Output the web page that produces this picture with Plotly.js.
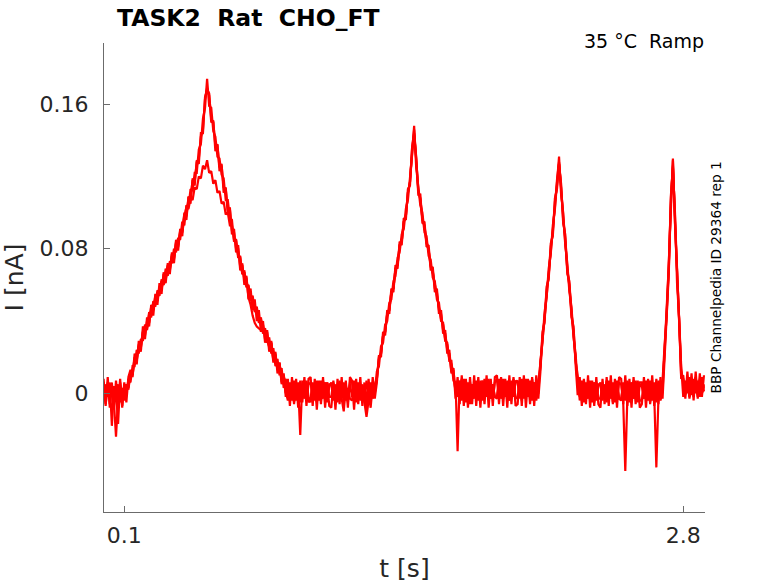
<!DOCTYPE html>
<html>
<head>
<meta charset="utf-8">
<script src="https://cdn.plot.ly/plotly-3.0.1.min.js"></script>
<style>
  html, body { margin: 0; padding: 0; background: #fff; }
  #chart { width: 778px; height: 583px; }
</style>
</head>
<body>
<div id="chart"></div>
<script>
var t0 = 0;
var dt = 0.01;

var sweepA = [
  5,-4,6,-6,3,-5,-24,-3,4,-7,
  5,-1,8,6,15,15,24,22,30,29,
  38,36,44,42,51,49,56,54,63,61,
  69,65,73,72,80,78,86,85,95,93,
  104,103,113,112,122,122,135,138,152,158,
  174,159,158,145,142,131,130,121,119,107,
  107,97,96,84,85,75,76,66,68,59,
  60,51,53,45,48,40,42,33,35,28,
  31,22,25,15,19,10,14,3,8,-2,
  6,-3,7,-4,4,-23,7,-2,5,-5,
  -3,6,-2,7,-4,4,-3,6,-5,5,
  5,-4,4,-3,7,-2,6,-4,3,-3,
  -4,7,-2,6,-3,5,-5,-13,-4,6,
  -3,5,8,19,22,32,34,44,46,56,
  58,69,71,82,84,95,98,111,117,134,
  148,125,116,104,100,89,87,76,74,64,
  62,52,50,40,39,29,28,18,18,7,
  6,-32,7,-4,6,-5,4,-6,5,-3,
  7,-2,5,-4,6,-1,8,-3,4,-2,
  -3,6,-1,8,-2,7,-4,5,-2,7,
  6,-3,8,-1,7,-2,5,-4,6,-1,
  0,18,28,45,53,69,77,93,102,119,
  131,110,100,82,72,56,48,31,22,4,
  6,-3,7,-2,5,-4,4,-5,6,-3,
  -3,6,-2,7,-4,5,-5,4,-3,6,
  5,-5,-43,-2,5,-4,7,-3,4,-4,
  -4,5,-2,6,-5,5,-2,-41,-3,6,
  5,23,47,68,107,126,98,63,40,9,
  8,-1,9,0,7,-2,9,-1,8,0,
  5
];

var sweepB = [
  -4,5,-2,6,-18,4,-3,5,-5,3,
  -4,5,3,12,10,19,18,26,25,34,
  32,40,39,48,46,54,51,59,57,66,
  64,71,68,76,75,84,81,89,90,99,
  98,108,108,118,117,128,130,142,146,163,
  169,165,152,150,137,137,125,126,114,113,
  102,102,90,89,80,80,70,71,63,64,
  53,49,43,39,37,36,35,38,30,34,
  25,28,18,22,13,17,6,10,0,6,
  -4,5,-5,4,-3,6,-2,7,-4,5,
  6,-2,5,-5,4,-4,7,-3,6,-2,
  -2,7,-4,5,-3,6,-2,5,-5,6,
  7,-3,6,-2,5,-5,4,-4,5,-2,
  6,1,12,15,26,28,38,40,50,52,
  62,65,75,78,88,91,102,107,121,130,
  144,129,112,108,96,93,83,80,70,68,
  58,56,46,44,35,33,24,22,12,13,
  0,7,-2,8,-1,7,-4,6,-3,5,
  -3,6,-4,7,-1,8,-2,5,-3,6,
  8,-1,7,-3,6,-4,5,-2,8,-3,
  -2,7,-4,6,-1,7,-3,8,-2,5,
  7,14,32,41,57,65,81,89,106,115,
  127,114,96,86,68,60,44,35,18,10,
  -4,7,-3,6,-2,5,-5,6,-3,4,
  6,-2,5,-5,6,-3,4,-4,7,-3,
  -3,6,-2,5,-5,6,-3,7,-2,6,
  6,-3,7,-4,4,-3,6,-2,7,-3,
  7,27,43,72,103,130,94,67,36,15,
  -2,7,0,9,-1,8,0,7,-2,9,
  1
];

var sweepC = [
  3,-6,4,-3,5,-7,2,-17,6,-2,
  -3,5,2,11,11,20,19,27,26,34,
  37,35,45,43,50,48,57,55,62,60,
  63,70,69,77,74,83,82,90,89,98,
  103,102,108,107,114,113,120,119,126,124,
  129,122,123,116,118,111,112,105,106,99,
  100,93,93,85,85,76,75,66,67,59,
  59,52,54,46,47,39,41,34,36,29,
  26,28,19,21,13,16,8,10,1,-4,
  4,-4,5,-3,6,-5,4,-3,7,-2,
  -5,5,-4,4,-3,7,-2,6,-4,4,
  6,-2,5,-5,4,-3,-10,4,-4,5,
  -2,6,-5,5,-4,4,-3,7,-2,-8,
  5,0,8,20,22,32,34,44,46,56,
  58,69,71,82,84,95,98,111,117,135,
  146,128,113,107,97,92,84,79,71,67,
  61,53,49,41,38,30,27,19,16,8,
  2,-2,7,-1,8,-3,6,-4,5,-2,
  6,-4,7,-1,8,-2,7,-3,5,-2,
  -2,8,-3,5,-1,6,-4,7,-1,6,
  7,-1,6,-3,8,-2,7,-1,6,-4,
  4,17,29,44,54,68,78,92,103,118,
  128,113,97,85,69,59,45,34,19,5,
  -2,6,-5,5,-3,7,-2,6,-4,5,
  5,-4,4,-3,7,-2,6,-5,5,-3,
  -4,5,-4,7,-2,6,-3,4,-5,5,
  4,-3,6,-2,7,-4,5,-5,4,-4,
  1,26,44,71,104,129,95,66,37,13,
  7,0,8,-3,6,-1,9,-2,7,0,
  4
];

var sweepD = [
  8,-7,9,-8,6,-9,7,-6,8,-8,
  6,-5,9,13,9,22,16,29,23,37,
  30,42,37,49,43,55,49,61,55,67,
  61,72,66,78,72,85,79,91,87,100,
  96,109,105,119,115,129,127,144,144,164,
  168,166,150,151,134,138,123,127,111,114,
  99,103,88,91,78,82,68,72,60,65,
  52,58,46,52,40,46,34,40,28,35,
  23,29,17,23,11,17,5,11,-2,8,
  -7,9,-6,8,-8,7,-5,9,-7,8,
  9,-7,8,-9,7,-6,9,-8,6,-7,
  -8,6,-9,8,-6,9,-7,7,-8,9,
  7,-9,8,-6,9,-7,6,-9,8,-6,
  9,-3,6,21,20,34,32,46,44,58,
  56,71,69,84,82,97,96,113,115,136,
  143,131,110,110,94,95,81,82,68,70,
  56,58,44,46,33,35,22,24,11,14,
  -3,9,-6,10,-7,8,-8,9,-6,10,
  -7,9,-8,7,-6,10,-8,8,-7,9,
  10,-6,9,-7,8,-8,10,-6,9,-7,
  -6,9,-7,10,-8,8,-6,9,-7,10,
  -3,12,34,39,59,63,83,87,108,113,
  127,116,94,88,66,62,42,37,16,-1,
  9,-7,8,-6,10,-8,7,-7,9,-6,
  -8,8,-6,9,-7,10,-6,8,-8,9,
  8,-6,10,-7,8,-8,9,-6,7,-8,
  -6,9,-8,8,-6,10,-7,8,-6,9,
  -3,21,49,66,109,125,100,61,42,8,
  10,-3,12,-2,11,-4,12,-3,11,-2,
  10
];

var xTicks = [0.1, 2.8];
var xTickText = ['0.1', '2.8'];
var yTicks = [0, 0.08, 0.16];
var yTickText = ['0', '0.08', '0.16'];

var sweeps = [sweepA, sweepB, sweepC, sweepD];

var data = sweeps.map(function(s) {
  return {
    x0: t0,
    dx: dt,
    y: s.map(function(v) { return v / 1000; }),   // pA -> nA
    type: 'scatter',
    mode: 'lines',
    line: { color: '#ff0000', width: 2.2 },
    hoverinfo: 'skip'
  };
});

var font = 'DejaVu Sans, Liberation Sans, sans-serif';
var axisGray = '#6b6b6b';

var layout = {
  width: 778,
  height: 583,
  margin: { l: 104, r: 73, t: 43, b: 71, pad: 0 },
  paper_bgcolor: '#ffffff',
  plot_bgcolor: '#ffffff',
  showlegend: false,
  font: { family: font, color: '#262626' },
  title: {
    text: 'TASK2\u00a0 Rat\u00a0 CHO_FT',
    font: { family: font, size: 23.5, color: '#000000', weight: 'bold' },
    xref: 'container', x: 117 / 778, xanchor: 'left',
    yref: 'container', y: 1 - 17.5 / 583, yanchor: 'middle'
  },
  xaxis: {
    range: [0.002, 2.905],
    showgrid: false, zeroline: false,
    showline: true, linecolor: axisGray, linewidth: 1,
    ticks: 'inside', ticklen: 6, tickcolor: axisGray, tickwidth: 1,
    tickvals: xTicks, ticktext: xTickText,
    tickfont: { size: 22, color: '#262626' },
    ticklabelstandoff: 4,
    title: { text: 't [s]', font: { size: 25, color: '#262626' }, standoff: 18 }
  },
  yaxis: {
    range: [-0.0657, 0.1939],
    showgrid: false, zeroline: false,
    showline: true, linecolor: axisGray, linewidth: 1,
    ticks: 'inside', ticklen: 6, tickcolor: axisGray, tickwidth: 1,
    tickvals: yTicks, ticktext: yTickText,
    tickfont: { size: 22, color: '#262626' },
    ticklabelstandoff: 10,
    title: { text: 'I [nA]', font: { size: 25, color: '#262626' }, standoff: 10 }
  },
  annotations: [
    {
      text: '35 °C\u00a0 Ramp',
      xref: 'paper', yref: 'paper',
      x: (706 - 104) / 601, y: (512 - 40.5) / 469,
      xanchor: 'right', yanchor: 'middle',
      showarrow: false,
      font: { family: font, size: 19, color: '#000000' }
    },
    {
      text: 'BBP Channelpedia ID 29364 rep 1',
      xref: 'paper', yref: 'paper',
      x: (715 - 104) / 601, y: 0.5,
      xanchor: 'center', yanchor: 'middle',
      textangle: -90,
      showarrow: false,
      font: { family: font, size: 13.7, color: '#000000' }
    }
  ]
};

Plotly.newPlot('chart', data, layout, { displayModeBar: false, staticPlot: true });
</script>
</body>
</html>
